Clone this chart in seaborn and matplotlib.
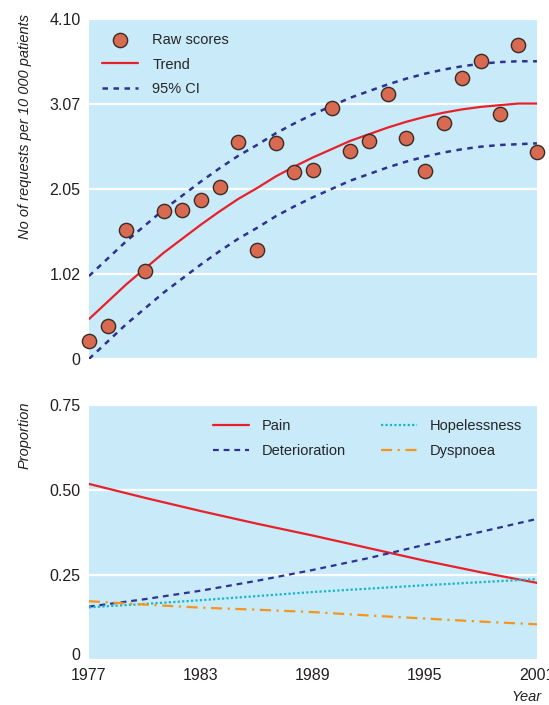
import numpy as np
import pandas as pd
import matplotlib
matplotlib.use("Agg")
import matplotlib.pyplot as plt
import matplotlib.transforms as mtransforms
import seaborn as sns

# ==============================
# Data
# ==============================
years = list(range(1977, 2002))

raw_scores = [0.22, 0.40, 1.56, 1.06, 1.78, 1.80, 1.92, 2.07, 2.62, 1.31,
              2.60, 2.26, 2.28, 3.03, 2.51, 2.63, 3.19, 2.67, 2.27, 2.85,
              3.39, 3.59, 2.95, 3.79, 2.50]

trend = [0.48, 0.69, 0.90, 1.09, 1.28, 1.45, 1.62, 1.78, 1.93, 2.06,
         2.20, 2.32, 2.43, 2.53, 2.63, 2.71, 2.79, 2.86, 2.92, 2.97,
         3.01, 3.04, 3.06, 3.08, 3.08]

ci_upper = [1.00, 1.21, 1.42, 1.61, 1.80, 1.97, 2.14, 2.30, 2.45, 2.58,
            2.72, 2.84, 2.95, 3.05, 3.15, 3.23, 3.31, 3.38, 3.44, 3.49,
            3.53, 3.56, 3.58, 3.59, 3.59]

ci_lower = [0.00, 0.21, 0.42, 0.61, 0.80, 0.97, 1.14, 1.30, 1.45, 1.58,
            1.72, 1.84, 1.95, 2.05, 2.15, 2.23, 2.31, 2.38, 2.44, 2.49,
            2.53, 2.56, 2.58, 2.59, 2.60]

prop_years = [1977, 1980, 1983, 1986, 1989, 1992, 1995, 1998, 2001]
pain = [0.518, 0.477, 0.438, 0.401, 0.366, 0.329, 0.292, 0.258, 0.227]
deterioration = [0.157, 0.179, 0.204, 0.233, 0.265, 0.300, 0.339, 0.377, 0.415]
hopelessness = [0.155, 0.165, 0.176, 0.188, 0.200, 0.210, 0.220, 0.229, 0.238]
dyspnoea = [0.173, 0.163, 0.154, 0.148, 0.141, 0.131, 0.122, 0.113, 0.105]

top_ticks = [0, 1.02, 2.05, 3.07, 4.10]
top_ticklabels = ["0", "1.02", "2.05", "3.07", "4.10"]
bottom_ticks = [0, 0.25, 0.50, 0.75]
bottom_ticklabels = ["0", "0.25", "0.50", "0.75"]
x_ticks = [1977, 1983, 1989, 1995, 2001]

# ==============================
# Style
# ==============================
bg = "#c8eaf9"
sns.set_style("white", {"axes.facecolor": bg})
plt.rcParams["font.family"] = ["Liberation Sans", "DejaVu Sans"]
plt.rcParams["font.size"] = 10.5

df_top = pd.DataFrame({"ano": years, "raw": raw_scores, "trend": trend,
                       "up": ci_upper, "low": ci_lower})
df_bot = pd.DataFrame({"ano": prop_years, "Pain": pain,
                       "Deterioration": deterioration,
                       "Hopelessness": hopelessness, "Dyspnoea": dyspnoea})

fig = plt.figure(figsize=(5.49, 7.05), dpi=100)
ax1 = fig.add_axes([0.162, 0.4908, 0.816, 0.4823])
ax2 = fig.add_axes([0.162, 0.0638, 0.816, 0.3617])

red = "#e8202a"
navy = "#2e3192"
cyan = "#19b5c9"
orange = "#f7941d"
txt = "#231f20"

# ==============================
# Top panel
# ==============================
sns.lineplot(data=df_top, x="ano", y="trend", ax=ax1, color=red, lw=1.6,
             label="Trend", zorder=3)
sns.lineplot(data=df_top, x="ano", y="up", ax=ax1, color=navy, lw=1.8,
             label="95% CI", zorder=3)
sns.lineplot(data=df_top, x="ano", y="low", ax=ax1, color=navy, lw=1.8,
             zorder=3)
for ln in ax1.lines[1:3]:
    ln.set_linestyle((0, (2.2, 2.2)))
sns.scatterplot(data=df_top, x="ano", y="raw", ax=ax1, s=105,
                color="#d76a50", edgecolor="#3b2b26", linewidth=1,
                label="Raw scores", zorder=5, clip_on=False)

h, l = ax1.get_legend_handles_labels()
order = [l.index("Raw scores"), l.index("Trend"), l.index("95% CI")]
ax1.legend([h[i] for i in order], [l[i] for i in order], loc="upper left",
           bbox_to_anchor=(0.029, 0.96), frameon=False, borderpad=0,
           borderaxespad=0, handlelength=2.5, handletextpad=0.95,
           labelspacing=0.75, fontsize=10.5, scatterpoints=1)

ax1.set_xlim(1977, 2001)
ax1.set_ylim(0, 4.10)
ax1.set_yticks(top_ticks)
ax1.set_yticklabels(top_ticklabels)
ax1.set_xticks(x_ticks)
ax1.set_xticklabels([])
ax1.set_xlabel("")
ax1.set_ylabel("")

# ==============================
# Bottom panel
# ==============================
styles = {"Pain": (red, "-"),
          "Deterioration": (navy, (0, (2.6, 2.2))),
          "Hopelessness": (cyan, (0, (1, 1))),
          "Dyspnoea": (orange, (0, (5, 2.5, 1, 2.5)))}
for nome, (cor, ls) in styles.items():
    sns.lineplot(data=df_bot, x="ano", y=nome, ax=ax2, color=cor, lw=1.6,
                 label=nome, zorder=3)
    ax2.lines[-1].set_linestyle(ls)

ax2.legend(loc="upper left", bbox_to_anchor=(0.277, 0.946), ncol=2,
           frameon=False, borderpad=0, borderaxespad=0, handlelength=2.5,
           handletextpad=0.85, labelspacing=0.75, columnspacing=2.4,
           fontsize=10.5)

ax2.set_xlim(1977, 2001)
ax2.set_ylim(0, 0.75)
ax2.set_yticks(bottom_ticks)
ax2.set_yticklabels(bottom_ticklabels)
ax2.set_xticks(x_ticks)
ax2.set_xticklabels([str(x) for x in x_ticks])
ax2.set_xlabel("")
ax2.set_ylabel("")

for ax in (ax1, ax2):
    for s in ax.spines.values():
        s.set_visible(False)
    ax.yaxis.grid(True, color="white", lw=1.6)
    ax.xaxis.grid(False)
    ax.set_axisbelow(True)
    ax.tick_params(axis="y", length=0, pad=6, labelsize=11.5, colors=txt)
    ax.tick_params(axis="x", direction="in", length=5, width=1.5,
                   color="white", pad=6, labelsize=11.5, labelcolor=txt)

# lift the bottom "0" a little so it clears the 1977 label
zero_lbl = ax2.get_yticklabels()[0]
zero_lbl.set_transform(zero_lbl.get_transform() +
                       mtransforms.ScaledTranslation(0, 4 / 72, fig.dpi_scale_trans))

fig.text(25 / 549, 1 - 14 / 705, "No of requests per 10 000 patients",
         rotation=90, ha="center", va="top", style="italic", fontsize=10.5,
         color=txt)
fig.text(25 / 549, 1 - 401 / 705, "Proportion", rotation=90, ha="center",
         va="top", style="italic", fontsize=10.5, color=txt)
fig.text(527 / 549, 1 - 697 / 705, "Year", ha="center", va="center",
         style="italic", fontsize=10.5, color=txt)

fig.savefig("out.png", dpi=100)
